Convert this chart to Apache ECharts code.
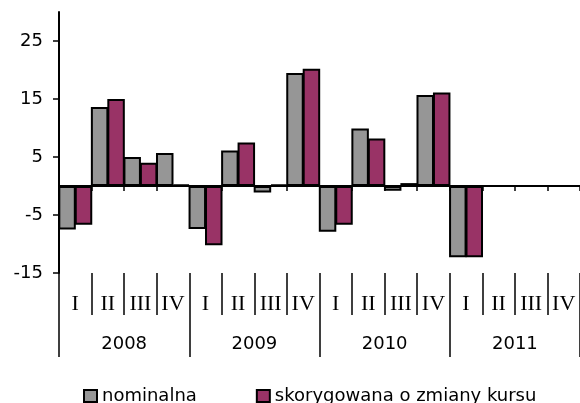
<!DOCTYPE html>
<html><head><meta charset="utf-8">
<script src="https://cdn.jsdelivr.net/npm/echarts@6/dist/echarts.min.js"></script>
<style>html,body{margin:0;padding:0;background:#fff}#c{width:580px;height:403px}</style>
</head><body><div id="c"></div>
<script>
const quarters = ["I","II","III","IV","I","II","III","IV","I","II","III","IV","I","II","III","IV"];
const years = ["2008","2009","2010","2011"];
const seriesNames = ["nominalna","skorygowana o zmiany kursu"];
const nominalData = [-7.5,13.6,5.0,5.7, -7.4,6.1,-1.1,19.5, -7.9,9.9,-0.8,15.7, -12.3,null,null,null];
const korygData  = [-6.7,15.0,4.0,0.3, -10.2,7.5,0.3,20.2, -6.7,8.2,0.5,16.1, -12.3,null,null,null];
const yTicks = [-15,-5,5,15,25];
</script>
<script>
const chart = echarts.init(document.getElementById('c'), null, {renderer:'canvas'});
const black = '#000';
const sans = 'DejaVu Sans';
chart.setOption({
  animation:false,
  grid:{left:59, top:12, width:528, height:261, containLabel:false},
  xAxis:[
    {type:'category', data:quarters.map((q,i)=>q+'_'+i), boundaryGap:true,
     axisLine:{onZero:true, lineStyle:{color:black,width:2}},
     axisTick:{show:true, interval:0, length:5, lineStyle:{color:black,width:1.5}},
     axisLabel:{show:false}, splitLine:{show:false}},
    {type:'category', data:quarters, position:'bottom', boundaryGap:true,
     axisLine:{show:false, onZero:false},
     axisTick:{show:true, interval:0, length:42, lineStyle:{color:black,width:1.5}},
     axisLabel:{interval:0, margin:20, fontFamily:'Liberation Serif', fontSize:22, color:black},
     splitLine:{show:false}},
    {type:'category', data:years, position:'bottom', boundaryGap:true,
     axisLine:{show:false, onZero:false},
     axisTick:{show:true, interval:0, length:84, lineStyle:{color:black,width:1.5}},
     axisLabel:{interval:0, margin:62, fontFamily:sans, fontSize:18, color:black},
     splitLine:{show:false}}
  ],
  yAxis:{type:'value', min:-15, max:30,
    axisLine:{show:true, lineStyle:{color:black,width:2}},
    axisTick:{show:true, length:6, customValues:yTicks, lineStyle:{color:black,width:1.5}},
    axisLabel:{customValues:yTicks, margin:16, fontFamily:sans, fontSize:18, color:black},
    splitLine:{show:false}},
  legend:{top:387, left:83, padding:0, itemWidth:13, itemHeight:12, itemGap:59, icon:'rect',
    textStyle:{fontFamily:sans, fontSize:18, color:black, padding:[3,0,0,0]},
    data:seriesNames},
  series:[
    {name:seriesNames[0], type:'bar', xAxisIndex:0, data:nominalData, barWidth:17.5, barGap:'-6%',
     itemStyle:{color:'#969696', borderColor:black, borderWidth:2}},
    {name:seriesNames[1], type:'bar', xAxisIndex:0, data:korygData, barWidth:17.5, barGap:'-6%',
     itemStyle:{color:'#993366', borderColor:black, borderWidth:2}}
  ]
});
</script>
</body></html>
